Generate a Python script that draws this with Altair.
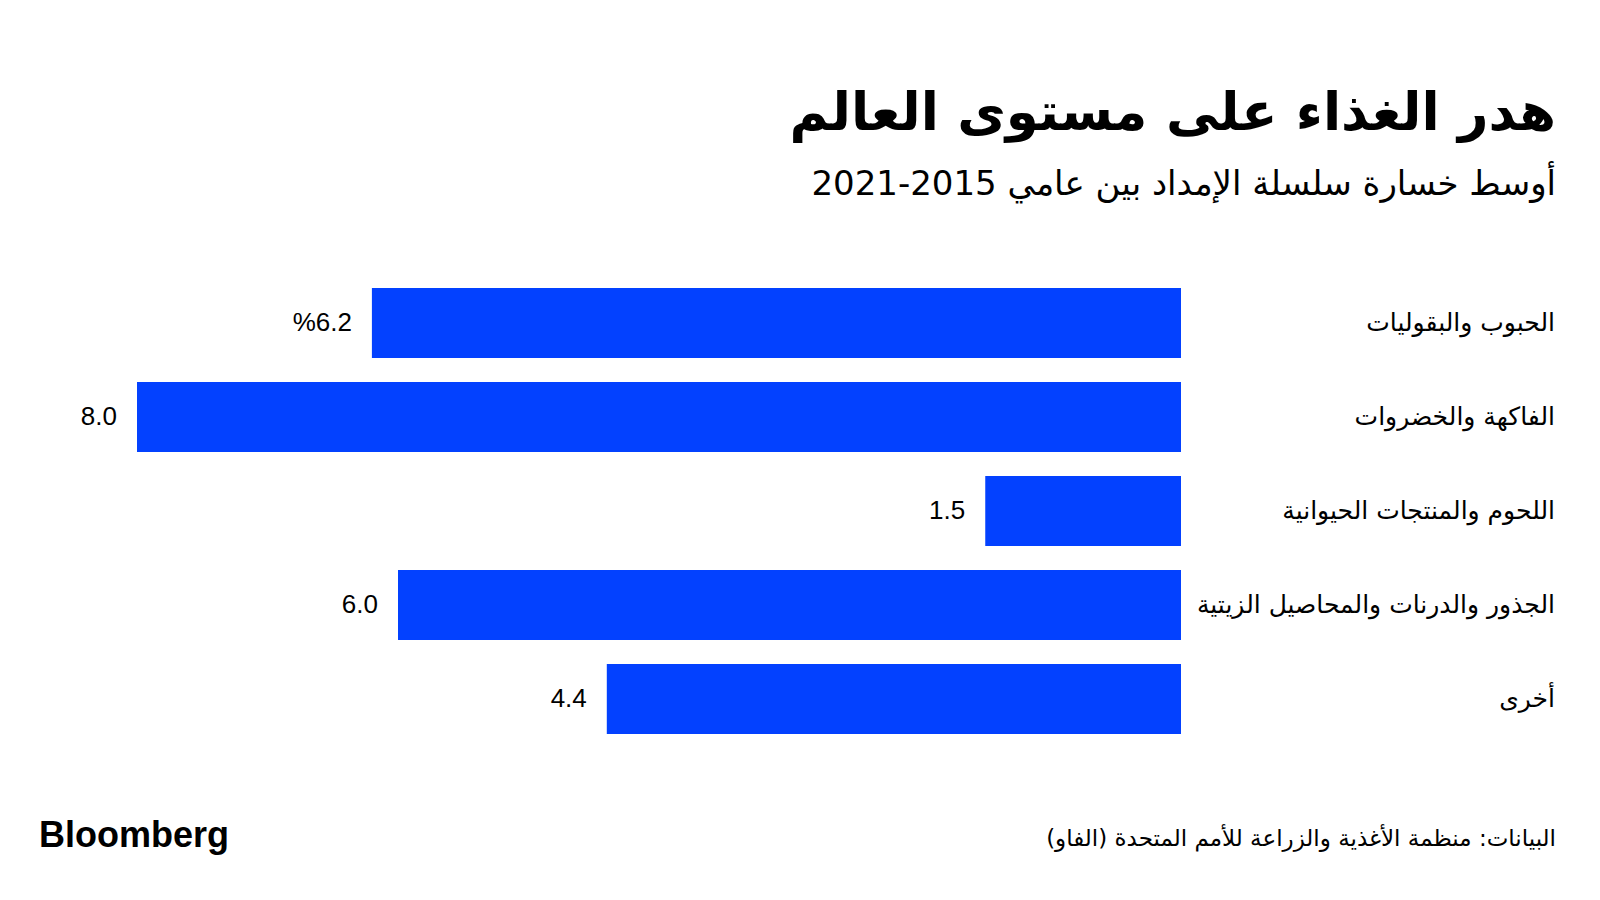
import altair as alt
import pandas as pd

categories = [
    "الحبوب والبقوليات",
    "الفاكهة والخضروات",
    "اللحوم والمنتجات الحيوانية",
    "الجذور والدرنات والمحاصيل الزيتية",
    "أخرى",
]
values = [6.2, 8.0, 1.5, 6.0, 4.4]
value_labels = ["%6.2", "8.0", "1.5", "6.0", "4.4"]

title_text = "هدر الغذاء على مستوى العالم"
subtitle_text = "أوسط خسارة سلسلة الإمداد بين عامي 2015-2021"
source_text = "البيانات: منظمة الأغذية والزراعة للأمم المتحدة (الفاو)\u200f"
brand_text = "Bloomberg"

df = pd.DataFrame({"category": categories, "value": values, "label": value_labels})

BLUE = "#0341FF"
AR_FONT = "DejaVu Sans"
NUM_FONT = "Liberation Sans"

x_scale = alt.Scale(domain=[0, 8], range=[1173, 129], nice=False, zero=True)
y_scale = alt.Scale(domain=categories, range=[268, 738], paddingInner=0.255, paddingOuter=0.1275)

base = alt.Chart(df)

bars = base.mark_bar(color=BLUE).encode(
    x=alt.X("value:Q", scale=x_scale, axis=None),
    y=alt.Y("category:N", scale=y_scale, sort=categories, axis=None),
)

vals = base.mark_text(align="right", baseline="middle", dx=-20, fontSize=26,
                      font=NUM_FONT, color="#000000").encode(
    x=alt.X("value:Q", scale=x_scale, axis=None),
    y=alt.Y("category:N", scale=y_scale, sort=categories, axis=None),
    text="label:N",
)

cats = base.mark_text(align="right", baseline="middle", fontSize=25,
                      font=AR_FONT, color="#000000").encode(
    x=alt.value(1547),
    y=alt.Y("category:N", scale=y_scale, sort=categories, axis=None),
    text="category:N",
)

def text_layer(txt, x, y, size, align, font, weight="normal"):
    return alt.Chart(pd.DataFrame({"t": [txt]})).mark_text(
        align=align, baseline="middle", fontSize=size, font=font,
        fontWeight=weight, color="#000000"
    ).encode(x=alt.value(x), y=alt.value(y), text="t:N")

title = text_layer(title_text, 1548, 106, 53, "right", AR_FONT, "bold")
subtitle = text_layer(subtitle_text, 1548, 177, 34, "right", AR_FONT)
source = text_layer(source_text, 1548, 831, 23, "right", AR_FONT)
brand = text_layer(brand_text, 31, 828, 36, "left", NUM_FONT, "bold")

chart = alt.layer(bars, vals, cats, title, subtitle, source, brand).properties(
    width=1584, height=880, padding=0, background="white"
).configure_view(stroke=None)

chart.save("out.html", embed_options={"renderer": "svg", "actions": False})
